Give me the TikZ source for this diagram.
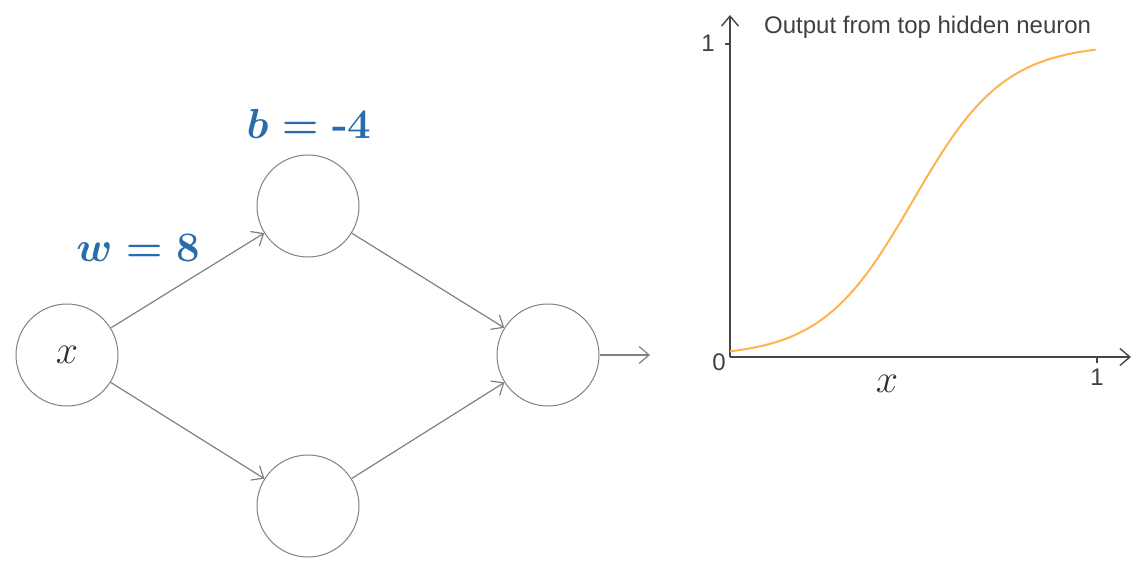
\RequirePackage{fix-cm}
\documentclass[tikz,border=0pt]{standalone}
\usepackage{fontspec}
\newfontfamily\labelfont{Liberation Sans}
\usetikzlibrary{arrows.meta}
\definecolor{wbblue}{RGB}{42,107,172}
\definecolor{edgegray}{RGB}{128,128,128}
\definecolor{axisgray}{RGB}{70,70,70}
\definecolor{curveorange}{RGB}{255,178,80}
\tikzset{
  neuron/.style={circle, draw=edgegray, line width=1pt, minimum size=102pt, inner sep=0pt,
                 font=\fontsize{40}{40}\selectfont, text=black!80},
  wire/.style={draw=edgegray, line width=1.2pt, -{Straight Barb[length=10pt,width=17pt,line width=1.2pt]}},
  param/.style={text=wbblue, font=\fontsize{42}{42}\selectfont\boldmath\bfseries},
  axis/.style={draw=axisgray, line width=1.4pt},
  axisarrow/.style={axis, -{Straight Barb[length=10pt,width=17pt,line width=1.4pt]}},
  ticklabel/.style={text=black!75, font=\labelfont\fontsize{24}{24}\selectfont, inner sep=1pt},
  sigmoid/.style={draw=curveorange, line width=2pt}
}
\begin{document}
\begin{tikzpicture}[x=1pt,y=-1pt]
  \useasboundingbox (0,0) rectangle (1140,570);

  % network
  \node[neuron] (in)  at (67,355)  {$x$};
  \node[neuron] (top) at (308,206) {};
  \node[neuron] (bot) at (308,506) {};
  \node[neuron] (out) at (548,355) {};
  \coordinate (outend) at (650,355);

  \draw[wire] (in) -- (top);
  \draw[wire] (in) -- (bot);
  \draw[wire] (top) -- (out);
  \draw[wire] (bot) -- (out);
  \draw[wire] (out) -- (outend);

  \node[param] (wlab) at (138,248) {$w = 8$};
  \node[param] (blab) at (309,124) {$b = {}$-4};

  % plot of the top hidden neuron
  \coordinate (origin) at (730,357);
  \coordinate (ytop) at (730,15);
  \coordinate (xend) at (1131,357);
  \draw[axisarrow] (origin) -- (ytop);
  \draw[axisarrow] (origin) -- (xend);
  \coordinate (ytick) at (730,44);
  \coordinate (xtick) at (1097,357);
  \draw[axis] (ytick) -- ++(-5,0);
  \draw[axis] (xtick) -- ++(0,6);
  \node[ticklabel] (y1) at (708,43) {1};
  \node[ticklabel] (x1) at (1097,377) {1};
  \node[ticklabel] (zero) at (719,362) {0};
  \node[text=black!80, font=\fontsize{40}{40}\selectfont] (xlab) at (887,384) {$x$};
  \node[ticklabel, anchor=west] (title) at (763,27) {Output from top hidden neuron};

  \draw[sigmoid] plot[domain=0:1, samples=120, smooth]
    ({730+366*\x}, {357-313/(1+exp(-(8*\x-4)))});
\end{tikzpicture}
\end{document}
